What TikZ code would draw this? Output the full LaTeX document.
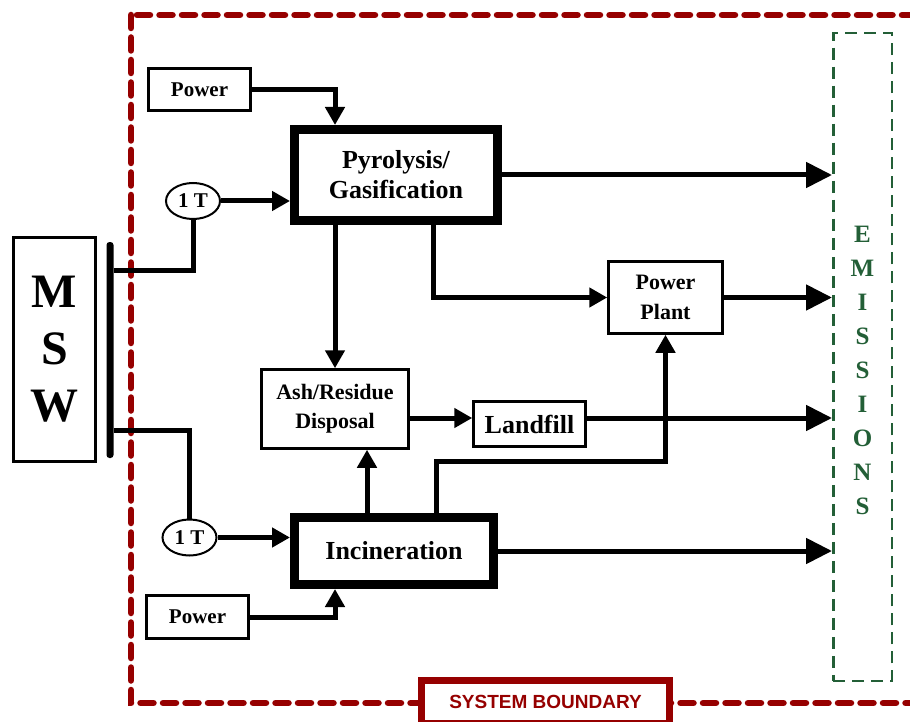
\documentclass[tikz,border=0pt]{standalone}
\usepackage{fontspec}
\setmainfont{Liberation Serif}
\newfontfamily\sysfont{Liberation Sans}
\usetikzlibrary{arrows.meta, shapes.geometric, positioning}
\definecolor{bndred}{RGB}{150,0,0}
\definecolor{emgreen}{RGB}{35,95,55}

\begin{document}
\begin{tikzpicture}[x=1pt, y=-1pt, font=\bfseries,
    box/.style={draw, line width=2.5pt, inner sep=0pt, align=center},
    mainbox/.style={draw, line width=9pt, inner sep=0pt, align=center},
    ton/.style={draw, ellipse, line width=2pt, inner sep=0pt, minimum width=54pt, minimum height=36pt,
      font=\bfseries\fontsize{21}{24}\selectfont},
    flow/.style={line width=5pt, -{Triangle[length=18pt, width=19pt]}},
    emit/.style={line width=5pt, -{Triangle[length=26pt, width=25pt]}}]
    \useasboundingbox (0,0) rectangle (910,722);

    % system boundary
    \draw[bndred, line width=6.5pt, line cap=round, dash pattern=on 13pt off 9.5pt] (131,15) rectangle (960,703);
    \node[draw=bndred, line width=7pt, fill=white, minimum width=248pt, minimum height=43pt, text=bndred,
      font=\sysfont\bfseries\fontsize{19}{22}\selectfont] (sysbnd) at (545.5,702) {SYSTEM BOUNDARY};

    % emissions
    \node[draw=emgreen, line width=2.5pt, dash pattern=on 12pt off 7pt, minimum width=58.5pt, minimum height=647.5pt] (em) at (862.5,357) {};
    \node[text=emgreen, align=center, inner sep=0pt, font=\bfseries\fontsize{25}{34}\selectfont] (emtxt) at (862.5,370)
      {E\\M\\I\\S\\S\\I\\O\\N\\S};

    % source
    \node[box, minimum width=82pt, minimum height=224pt, font=\bfseries\fontsize{48}{57}\selectfont] (msw) at (54.5,349.5) {M\\S\\W};
    \node[fill, inner sep=0pt, minimum width=7pt, minimum height=216pt, rounded corners=3pt] (bar) at (110,350) {};
    \node[ton] (tone) at (193,201) {1 T};
    \node[ton] (ttwo) at (189.5,537.5) {1 T};

    % processes
    \node[box, minimum width=102pt, minimum height=42pt, font=\bfseries\fontsize{21}{24}\selectfont] (pwrtop) at (199.5,89.5) {Power};
    \node[box, minimum width=102pt, minimum height=43pt, font=\bfseries\fontsize{21}{24}\selectfont] (pwrbot) at (197.5,617) {Power};
    \node[mainbox, minimum width=203pt, minimum height=91pt, font=\bfseries\fontsize{26}{30}\selectfont] (pyro) at (396,175) {Pyrolysis/\\Gasification};
    \node[mainbox, minimum width=199pt, minimum height=67pt, font=\bfseries\fontsize{26}{30}\selectfont] (inc) at (394,551) {Incineration};
    \node[box, minimum width=147pt, minimum height=79pt, font=\bfseries\fontsize{22}{29}\selectfont] (ash) at (335,409) {Ash/Residue\\Disposal};
    \node[box, minimum width=112pt, minimum height=45pt, font=\bfseries\fontsize{26}{30}\selectfont] (lf) at (529.5,424) {Landfill};
    \node[box, minimum width=114pt, minimum height=72pt, font=\bfseries\fontsize{22}{30}\selectfont] (pp) at (665.5,297.5) {Power\\Plant};
    \coordinate (jn) at (550,461);

    % feed lines
    \draw[line width=5pt] ([yshift=80pt]bar.east) -| (tone.south);
    \draw[line width=5pt] ([yshift=-80pt]bar.east) -| (ttwo.north);
    \draw[flow] (tone.east) -- (tone.east -| pyro.west);
    \draw[flow] (ttwo.east) -- (ttwo.east -| inc.west);
    \draw[flow] (pwrtop.east) -| (pyro.north -| ash.north);
    \draw[flow] (pwrbot.east) -| (inc.south -| ash.south);

    % between processes
    \draw[flow] (pyro.south -| ash.north) -- (ash.north);
    \draw[flow] ([xshift=37pt]pyro.south) |- (pp.west);
    \draw[flow] ([xshift=-27pt]inc.north) -- ([xshift=-27pt]inc.north |- ash.south);
    \draw[flow] ([xshift=42pt]inc.north) |- (jn) -| (pp.south);
    \draw[flow] ([yshift=6pt]ash.east |- lf.west) -- ([yshift=6pt]lf.west);

    % to emissions
    \draw[emit] (pyro.east) -- (pyro.east -| em.west);
    \draw[emit] (pp.east) -- (pp.east -| em.west);
    \draw[emit] ([yshift=6pt]lf.east) -- ([yshift=6pt]lf.east -| em.west);
    \draw[emit] (inc.east) -- (inc.east -| em.west);
\end{tikzpicture}
\end{document}
